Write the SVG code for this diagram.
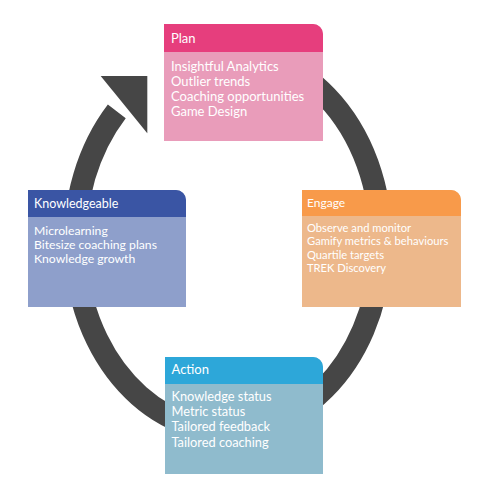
<svg xmlns="http://www.w3.org/2000/svg" width="495" height="504" viewBox="0 0 495 504">
<style>
.ring{fill:none;stroke:#464646;stroke-width:22.5}
.arrow{fill:#464646}
.hd{font-family:Lato,"Liberation Sans",sans-serif;font-size:13px;fill:#fff}
.bd{font-family:Lato,"Liberation Sans",sans-serif;font-size:13px;fill:#fff}
</style>
<rect width="495" height="504" fill="#fff"/>
<g id="connectors">
<path class="ring" d="M 280.3 63.4 A 153 189.5 0 1 1 116.8 111.3"/>
<polygon class="arrow" points="100.7,76 147.3,76 147.3,133.3"/>
</g>
<g id="plan">
<path d="M164 24 H313 A10 10 0 0 1 323 34 V141 H164 Z" fill="#E99CBA"/>
<path d="M164 24 H313 A10 10 0 0 1 323 34 V52 H164 Z" fill="#E63E7D"/>
<text class="hd" x="171" y="42.5">Plan</text>
<text class="bd" x="171" y="71">Insightful Analytics</text>
<text class="bd" x="171" y="86">Outlier trends</text>
<text class="bd" x="171" y="101">Coaching opportunities</text>
<text class="bd" x="171" y="116">Game Design</text>
</g>
<g id="knowledgeable">
<path d="M28 190 H176 A10 10 0 0 1 186 200 V307 H28 Z" fill="#8E9FCB"/>
<path d="M28 190 H176 A10 10 0 0 1 186 200 V217 H28 Z" fill="#3A55A4"/>
<text class="hd" x="34" y="207.5" style="font-size:12.5px">Knowledgeable</text>
<text class="bd" x="34" y="234.5" style="font-size:12.2px">Microlearning</text>
<text class="bd" x="34" y="248.5" style="font-size:12.2px">Bitesize coaching plans</text>
<text class="bd" x="34" y="262.5" style="font-size:12.2px">Knowledge growth</text>
</g>
<g id="engage">
<path d="M302 190 H451 A10 10 0 0 1 461 200 V307 H302 Z" fill="#EDB88B"/>
<path d="M302 190 H451 A10 10 0 0 1 461 200 V216 H302 Z" fill="#F89A4A"/>
<text class="hd" x="307" y="207" style="font-size:12px">Engage</text>
<text class="bd" x="307" y="232" style="font-size:11.2px">Observe and monitor</text>
<text class="bd" x="307" y="245.3" style="font-size:11.2px">Gamify metrics &amp; behaviours</text>
<text class="bd" x="307" y="258.6" style="font-size:11.2px">Quartile targets</text>
<text class="bd" x="307" y="271.9" style="font-size:11.2px">TREK Discovery</text>
</g>
<g id="action">
<path d="M165 357 H313 A10 10 0 0 1 323 367 V474 H165 Z" fill="#8FBBCD"/>
<path d="M165 357 H313 A10 10 0 0 1 323 367 V384 H165 Z" fill="#2DA7D9"/>
<text class="hd" x="171.5" y="374">Action</text>
<text class="bd" x="171.5" y="401" style="font-size:12.8px">Knowledge status</text>
<text class="bd" x="171.5" y="416" style="font-size:12.8px">Metric status</text>
<text class="bd" x="171.5" y="431" style="font-size:12.8px">Tailored feedback</text>
<text class="bd" x="171.5" y="446.5" style="font-size:12.8px">Tailored coaching</text>
</g>
</svg>
